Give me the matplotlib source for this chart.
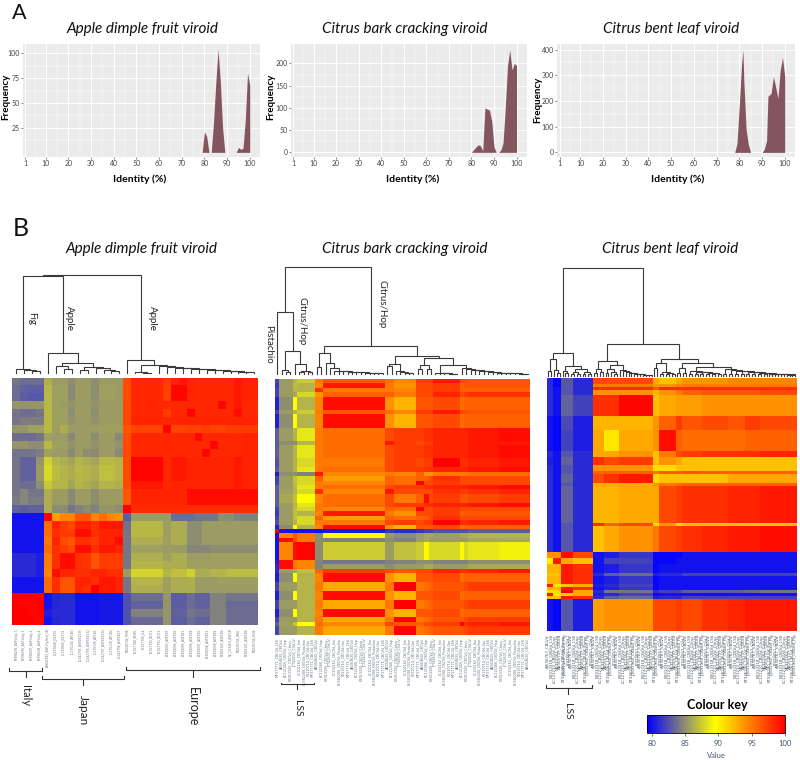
# Frecuencia de identidad y mapas de calor de tres viroides

import matplotlib
matplotlib.use('Agg')
import matplotlib.pyplot as plt
import numpy as np
from matplotlib.cm import ScalarMappable
from matplotlib.colors import LinearSegmentedColormap, Normalize

plt.rcParams['font.family'] = ['Lato', 'DejaVu Sans']

# --- histogramas de identidad ---
titles = ['Apple dimple fruit viroid', 'Citrus bark cracking viroid', 'Citrus bent leaf viroid']

adfvd_identity = [78, 79, 80, 81, 82, 83, 84, 85, 86, 87, 88, 89, 93, 94, 95, 96, 97, 98, 99, 100, 100.01]
adfvd_freq = [0, 0, 21, 16, 0, 0, 30, 70, 104, 72, 25, 0, 0, 0, 5, 3, 4, 32, 80, 68, 0]
cbcvd_identity = [79, 80, 81, 82, 83, 84, 85, 86, 87, 88, 89, 90, 91, 92, 93, 94, 95, 96, 97, 98, 99, 100, 100.01]
cbcvd_freq = [0, 0, 6, 12, 17, 15, 3, 100, 97, 95, 70, 12, 0, 0, 5, 20, 100, 195, 230, 185, 200, 195, 0]
clbvd_identity = [77, 78, 79, 80, 81, 81.6, 82, 83, 84, 85, 89, 90, 91, 92, 92.6, 94, 95, 96, 97, 98, 99, 100, 100.01]
clbvd_freq = [0, 0, 35, 180, 340, 400, 280, 90, 30, 0, 0, 0, 12, 45, 218, 230, 295, 255, 210, 320, 370, 295, 0]

id_ticks = [1, 10, 20, 30, 40, 50, 60, 70, 80, 90, 100]
freq_ticks = [[25, 50, 75, 100], [0, 50, 100, 150, 200], [0, 100, 200, 300, 400]]
freq_limits = [(-4.7, 109.5), (-10.5, 243.6), (-18, 422)]

# --- mapa 1: Europa (17), Japón (10), Italia (4) ---
heat1 = [
    [84, 83.7, 83.7, 83.7, 86.3, 85.5, 85.5, 85, 85.5, 85.5, 85, 85.5, 85.5, 85.5, 96.8, 98.3, 98.3, 98.3, 98.3, 97.5, 98.5, 99, 98.5, 98.3, 98.3, 98.3, 98.3, 98.3, 99, 98.5, 98.5],
    [83.7, 83.2, 83, 83, 86.7, 85.7, 85.7, 84.8, 85.5, 85.5, 85, 85.7, 85.7, 85.5, 96.8, 98.3, 98.3, 98.3, 98.3, 97.3, 99.7, 99.7, 98.5, 98.3, 98.3, 98.3, 98.3, 98.3, 99, 98.5, 98.5],
    [83.7, 83, 82.8, 82.8, 86.7, 85.7, 85.7, 84.8, 85.5, 85.5, 85, 85.7, 85.7, 85.5, 96.8, 98.3, 98.3, 98.3, 98.3, 97.3, 99.7, 99.7, 98.5, 98.3, 98.3, 98.3, 98.3, 98.3, 99, 98.5, 98.5],
    [85.3, 85.3, 85.3, 85.3, 86.7, 85.7, 85.5, 85.2, 85.5, 85.5, 85.2, 85.5, 85.5, 85.5, 97, 98.3, 98.3, 98.5, 98.3, 98.3, 98.3, 98.3, 98.3, 98.3, 98.3, 98.3, 99.6, 98.3, 99, 98.3, 98.3],
    [84, 83.7, 83.7, 84, 86.7, 85.7, 85.7, 85, 85.5, 85.5, 85, 85.5, 85.5, 85.5, 97, 98.3, 98.3, 98.3, 98.3, 97.5, 98.3, 98.3, 99.7, 98.3, 98.3, 98.3, 98.3, 98.3, 99.5, 98.3, 98.3],
    [84, 84.3, 84.3, 84.3, 86.7, 85.7, 85.7, 85.2, 85.5, 85.5, 85.2, 85.5, 85.5, 85.5, 97, 98.5, 98.5, 98.5, 98.5, 98.3, 98.5, 98.5, 98.5, 98.5, 98.5, 98.5, 98.5, 98.5, 98.5, 98.5, 98.5],
    [85.3, 85.3, 85.7, 85.7, 86.7, 85.7, 86.2, 85.5, 85.5, 85.5, 85.5, 85.7, 85.7, 85.7, 96.5, 97.2, 97.2, 97.2, 97.2, 99.8, 97.2, 97.2, 97.3, 97.2, 97.5, 97.2, 97.2, 97.5, 97.5, 97.5, 97.5],
    [83.7, 83.7, 83.7, 84, 85.7, 85.5, 85.5, 84.8, 85.5, 85.5, 85, 85.5, 85.5, 84.8, 96.8, 98.3, 98.3, 98.3, 98.3, 98.3, 98.3, 98.3, 98.3, 99.6, 98.3, 98.3, 98.3, 98.3, 98.3, 98.5, 98.5],
    [85.3, 85.3, 85, 85, 86.7, 85.7, 85.7, 85.2, 85.5, 85.5, 85.2, 85.5, 85.5, 85.2, 97, 98.3, 98.3, 98.3, 98.3, 98.5, 98.3, 98.3, 98.3, 98.3, 98.3, 99.6, 98.3, 98.3, 98.3, 98.5, 98.5],
    [84, 84, 84, 84.3, 85.7, 85.5, 85.5, 84.8, 85.5, 85, 84.8, 85.5, 85.5, 84.8, 97, 98.3, 98.3, 98.3, 98.3, 98.3, 98.3, 98.3, 98.3, 98.3, 99.6, 98.3, 98.3, 98.3, 98.3, 98.5, 98.5],
    [84, 83.2, 83.2, 85.3, 87.6, 86.5, 86.2, 85.9, 86.5, 86.2, 85.9, 86.7, 86.7, 86.5, 96.8, 99.8, 99.8, 99.8, 99.8, 98.3, 99, 99, 98.5, 98.5, 98.5, 98.5, 98.5, 98.5, 99, 98.5, 98.5],
    [84, 83.2, 83.2, 85.5, 88, 86.8, 86.5, 86.2, 86.7, 86.5, 86.2, 86.9, 86.9, 86.5, 96.8, 99.8, 99.8, 99.8, 99.8, 98.3, 99, 99, 98.5, 98.5, 98.5, 98.5, 98.5, 98.5, 99, 98.5, 98.5],
    [84, 83.2, 83.2, 85.5, 88, 86.8, 86.5, 86.2, 86.7, 86.5, 86.2, 86.9, 86.9, 86.5, 96.8, 99.8, 99.8, 99.8, 99.8, 98.3, 99, 99, 98.5, 98.5, 98.5, 98.5, 98.5, 98.5, 99, 98.5, 98.5],
    [84, 83.7, 83.7, 85, 87.2, 86.5, 86.5, 85.9, 86.5, 86.2, 85.9, 86.5, 86.5, 86.3, 97, 99, 99, 99, 99, 98.3, 98.5, 98.5, 98.5, 98.5, 98.5, 98.5, 98.5, 98.5, 99, 98.5, 98.5],
    [84, 84.7, 84, 84, 86.3, 85.5, 85.5, 84.8, 85.5, 85.5, 85, 85.5, 85.5, 85.5, 96.5, 98.5, 98.5, 98.5, 98.5, 98.5, 98.5, 98.5, 99.5, 99.5, 99.5, 99.5, 99.5, 99.5, 99.5, 99.5, 99.5],
    [84.3, 84.7, 84.3, 84.3, 86.3, 85.5, 85.5, 84.8, 85.5, 85.5, 85, 85.5, 85.5, 85.5, 96.5, 98.5, 98.5, 98.5, 98.5, 98.5, 98.5, 98.5, 99.5, 99.5, 99.5, 99.5, 99.5, 99.5, 99.5, 99.5, 99.5],
    [83.2, 83, 83.2, 83.2, 86.3, 85, 85, 84, 84.5, 85, 84.5, 85.3, 85.3, 85, 100, 98.2, 98.2, 98.2, 98.2, 98.2, 98.2, 98.2, 98.2, 98.2, 98.2, 98.2, 98.2, 98.2, 98.2, 98.2, 98.2],
    [80, 80, 80, 80, 100, 93.5, 94.5, 94.5, 96.5, 96.5, 94.5, 95.5, 94.5, 94, 83, 85.5, 85.5, 85.5, 85.5, 85.5, 83.7, 83.7, 83.7, 83.9, 84, 84, 85, 85, 84.5, 84.5, 84.5],
    [80, 80, 80, 80, 95.5, 98.5, 97.5, 97, 98.5, 98.5, 98, 99, 99, 99, 83.8, 86.7, 86.7, 86.7, 86.7, 85.7, 86.2, 86.2, 85, 85, 85.5, 85.5, 85.5, 85.5, 85.5, 85.5, 85.5],
    [80, 80, 80, 80, 95.5, 98, 97.5, 97.5, 99.5, 99.5, 98, 98.5, 98.5, 98.5, 84, 86.7, 86.7, 86.7, 86.7, 85.7, 86.2, 86.2, 85, 85, 85.5, 85.5, 85.5, 85.5, 85.5, 85.5, 85.5],
    [80, 80, 80, 80, 95, 98.5, 97, 96.5, 98, 98, 97.5, 98.5, 98.5, 99.5, 84, 86.3, 86.3, 86.3, 86.3, 85.7, 86.2, 86.2, 85, 85, 85.5, 85.5, 85.5, 85.5, 85.5, 85.5, 85.5],
    [80, 80, 80, 80, 95.5, 98, 97.5, 97, 99.5, 99.5, 98, 99, 99, 98.5, 84, 85.7, 85.7, 85.7, 85.7, 85.5, 85.5, 85.5, 84.7, 84.7, 84.7, 85, 85, 85, 85, 85, 85],
    [81, 81, 81, 80.5, 94.8, 98, 99.5, 99.5, 98, 97.8, 96.5, 97.5, 97.5, 97.5, 84, 86.3, 86.3, 86.3, 86.3, 85.7, 86.2, 86.2, 85.5, 85.5, 85.5, 85.7, 85.7, 85.7, 85.7, 85.7, 85.7],
    [81, 81, 81, 80.5, 94.8, 98, 99.5, 99.5, 98, 97.8, 96.5, 97.5, 97.5, 97.5, 84, 86.5, 86.5, 86.5, 86.5, 86.2, 86.3, 86.3, 85.7, 85.7, 85.7, 85.7, 85.7, 85.7, 85.7, 85.7, 85.7],
    [81, 81, 81, 80.5, 94.5, 99.5, 98.5, 98.5, 98, 98, 98.5, 98.5, 98, 98, 85.5, 87.8, 87.8, 87.8, 87.8, 86.5, 87, 87, 87.6, 86.2, 86.2, 86.5, 86.5, 86.8, 86.8, 86.8, 86.8],
    [80, 80, 80, 80, 95.5, 98, 96.5, 96.5, 98.5, 98.5, 98, 99, 99, 98.5, 84, 86.5, 86.5, 86.5, 86.5, 85.7, 86.2, 86.2, 86.3, 85.5, 85.5, 85.5, 85.7, 85.7, 85.7, 85.7, 85.7],
    [80, 80, 80, 80, 95.5, 98, 96.5, 96.5, 98.5, 98, 100, 99, 99, 98.5, 84, 86.3, 86.3, 86.3, 86.3, 85.7, 86.2, 86.2, 86.3, 85.5, 85.5, 85.5, 85.5, 85.5, 85.5, 85.5, 85.5],
    [100, 100, 100, 100, 80, 80.8, 81, 81, 80, 80, 80, 80.3, 80.3, 80.3, 82.5, 83.7, 83.7, 83.7, 83.7, 85.3, 83, 83, 83.7, 83.2, 83.2, 84.5, 84.5, 84, 84, 84, 84],
    [100, 99.7, 99.7, 100, 80, 80.8, 81, 81, 80, 80, 80, 80.3, 80.3, 80.3, 82.5, 83.2, 83.2, 83.2, 83.2, 85.3, 83, 83, 83.7, 83.2, 83.2, 84.5, 84.5, 83.5, 83.5, 83.5, 83.5],
    [100, 100, 99.7, 100, 80.5, 81, 81, 81, 80, 80, 80, 80.3, 80.3, 80.3, 82.5, 84.5, 84.5, 84.5, 84.5, 85.3, 83.2, 83.2, 84, 83.7, 83.7, 84.5, 84.5, 83.7, 83.7, 83.7, 83.7],
    [100, 100, 100, 99.7, 80, 80.8, 81, 81, 80, 80, 80, 80.3, 80.3, 80.3, 82.5, 83.5, 83.5, 83.5, 83.5, 85.3, 83, 83, 83.7, 83.2, 83.2, 84.5, 84.5, 83.7, 83.7, 83.7, 83.7],
]
heat1_labels = [
    'KF998296_ASP-Italy-3', 'KF998295_ASP-Italy-1', 'KF998297_ASP-Italy-2', 'KF998298_ASP-Italy-4',
    'AB842285_ASP-Fig-Red_1B', 'LC033848_JS1570', 'LC033849_JS1574', 'LC176140_AP1B3',
    'LC042795_ASP1B1535', 'LC042796_ASP1B1532', 'LC176139_AP1B1', 'LC042797_ASP1B1530',
    'LC176138_AP1B2', 'LC042798_ASP1B07', 'MG049744_MN8', 'KC037788_BD90',
    'KC037789_IL4', 'KC037790_BD71', 'KC037791_BD73', 'EF408093_ASP1B7',
    'EF408094_ASP1B3', 'EF408095_ASP1B2', 'EF408096_ASP1B8', 'EF408097_ASP1B5',
    'EF408098_ASP1B13', 'EF408099_ASP1B9', 'EF408100_ASP1B4', 'NC_003463_ASP1B',
    'MG049745_MN5', 'EF408101_ASP1B6', 'MG049746_MN4',
]
heat1_tree = (98,
              (97.7,
               (4, 0, (3, 0, (2.5, 0, 0))),
               (20.7, 0, (10, (7.3, 0, (4, 0, 0)), (6, (3, 0, 0), (5, 0, (3, 0, (2, 0, 0))))))),
              (13, 0, (8, (1.5, 0, (0.8, 0, 0)), ('l', 7.3, 6, 5.5, 5, 4.5, 4, 3.5, 3, 2.5, 2, 1.5, 1.2))))

# --- mapa 2: perfiles de fila por bandas de columnas ---
heat2_band_widths = [1, 3, 1, 4, 2, 14, 2, 5, 2, 1, 1, 6, 1, 1, 7, 7]
heat2_profiles = {
    'A': [80.5, 85, 89.5, 86.5, 94.5, 99.5, 94, 92.5, 96.5, 96.5, 96.5, 97, 95.5, 96, 96, 96],
    'A2': [81.5, 85.5, 87, 86.5, 94.5, 99, 95, 94, 97, 97, 97, 97.5, 96, 96.5, 96.5, 96.5],
    'B': [82, 85.5, 86.5, 87.5, 95, 96.5, 95.5, 94.5, 97.5, 97.5, 97.5, 99, 97, 97, 96.5, 96.5],
    'B2': [82, 85.5, 86.5, 86.5, 98, 95, 95, 94.5, 97, 97, 97, 97.5, 96, 96, 96, 96],
    'B3': [82, 85.5, 86, 88, 94, 96, 96, 95, 97, 97, 97, 98.5, 97, 97.5, 98, 98],
    'C': [83, 85.5, 86.5, 88.5, 95, 95.5, 97, 97.5, 97.5, 98, 98, 98.5, 98.5, 98.5, 99, 99.5],
    'C2': [82.5, 85.5, 86.5, 88, 95, 95, 97, 97.5, 97, 97.5, 97.5, 100, 98, 98, 98.5, 99],
    'C3': [83, 85, 85, 86.5, 95, 95.5, 99, 97.5, 97, 97.5, 97.5, 98.5, 98.5, 98.5, 99, 99],
    'D': [80.5, 85, 85, 84.5, 99, 94.5, 95, 94.5, 96, 94, 94, 95, 95, 95, 95.5, 95.5],
    'E0': [82, 85.5, 87, 88, 96, 93.5, 96, 95.5, 96, 96, 97, 98, 97, 97, 97, 97],
    'F': [82, 85.5, 87, 88, 95, 94.5, 96, 95.5, 100, 97, 97, 97.5, 97, 97, 97, 97],
    'G': [83, 86, 87, 89.5, 94.5, 95.5, 97, 95, 96, 99.5, 97, 97.5, 96.5, 96.5, 97, 97.5],
    'H': [83, 85.7, 86.5, 88, 98, 94.5, 99, 97, 97, 97, 97, 98, 97.5, 97.5, 98, 98.5],
    'BL': [100, 80, 80, 80, 80, 80.3, 81.5, 81, 81.5, 82, 82, 82.5, 82.5, 82.5, 83, 83],
    'S1': [80, 94.5, 96.5, 95, 85, 89.5, 85.5, 85, 85.5, 86, 86, 85.7, 86, 86, 86.5, 86.5],
    'S2': [80, 99.5, 97, 95, 84.8, 84.5, 85, 84.5, 85.5, 86, 85.5, 85.5, 85.5, 85.5, 86, 86],
    'S3': [80, 94.5, 99.5, 99.8, 85, 87.5, 85.5, 87, 87.5, 89.7, 88, 88, 89.7, 88, 88.5, 89],
    'S4': [80.5, 99.5, 95, 94.5, 84.5, 84, 84.5, 84.5, 85, 85, 85, 84.5, 84.5, 84.5, 85, 85],
    'S5': [81, 99.5, 95, 94.5, 84.5, 85.5, 85, 85.5, 85.5, 86, 86, 85.5, 85.5, 85.5, 86, 86],
    'E': [82, 85.5, 85.5, 86.5, 95, 93, 95, 100, 95, 95.5, 96, 96.5, 96.5, 97, 97.5, 97.5],
    'I': [81, 85.5, 86, 87, 96, 97.5, 97, 96.5, 97, 97, 97, 98.5, 98, 98, 98.5, 99],
    'J': [83, 85.7, 87, 89.5, 95.5, 94.5, 97, 96.5, 96, 97, 97, 97.5, 100, 98, 98.5, 99],
}
heat2_rows = [
    'B', 'A2', 'B2', 'B3', 'A', 'A', 'A', 'B', 'A', 'A', 'A',
    'C', 'C', 'C', 'C3', 'C', 'C', 'C', 'C2', 'C2', 'C', 'D',
    'E0', 'F', 'C', 'H', 'G', 'G', 'C', 'F', 'A2', 'E0', 'C2', 'A',
    'BL', 'S1', 'S2', 'S3', 'S3', 'S3', 'S3', 'S4', 'S5', 'I',
    'A', 'A', 'E', 'E', 'A', 'A', 'E', 'E', 'A', 'A', 'E', 'J', 'E', 'E',
]
heat2_label_stems = ['MF377771_CBCVd_LSS', 'AB054620_CBCVd', 'KC121566_CBCVd_Hop', 'KX013326_CBCVd_Citrus',
                     'JF742602_CVd-IV', 'LC102162_CBCVd_Sw', 'EU382208_CBCVd_Pistachio', 'KY110714_CBCVd-Gre']
heat2_tree = (107,
              (62.7, 0, (23.3, (4, 0, (2.5, 0, 0)), (10, 0, (3, (2, 0, 0), (2, 0, 0))))),
              (28.3,
               (21.7, (7, 0, 0), (11, 0, ('l', 6, 3.5, 3, 2.8, 2.5, 2.2, 2, 1.8, 1.5, 1.3, 1, 0.8))),
               (18.3,
                (10, (8, 0, 0), ('l', 3, 2, 1.5, 1)),
                (16.7,
                 (9, (5, 0, 0), (5, 0, 0)),
                 (9, ('l', 1.2, 1, 0.8, 0.6, 0.5),
                  ('l', 6, 5.5, 4.5, 4, 3.5, 3, 2.5, 2, 1.6, 1.4, 1.2, 1, 0.8, 0.6, 0.5))))))

# --- mapa 3 ---
heat3_band_widths = [2, 3, 4, 7, 4, 5, 12, 2, 6, 2, 7, 9, 6, 5, 13]
heat3_profiles = {
    'a': [81, 79.5, 82.7, 81, 97, 97, 97, 93, 92, 93, 94, 94, 94.5, 94.5, 94.5],
    'b': [81, 79.5, 82.7, 81, 95, 95, 95, 94, 94, 94.5, 95, 95, 95, 95, 95],
    'c': [81, 80, 82.7, 81, 98, 98, 98, 96, 98, 98, 98, 98, 98, 98, 98],
    'd': [81, 80, 82.7, 81, 94, 94, 94, 92.5, 94, 95, 96, 96.5, 96.5, 96.5, 97],
    'e': [81, 80, 83.3, 82, 98, 98, 99.7, 92, 93, 93.5, 93.5, 94, 94, 94, 94],
    'f': [80, 79.5, 82.3, 80.5, 92.5, 92.5, 92.5, 94, 96, 97.5, 96.5, 97, 96.5, 97.5, 97],
    'g': [80, 79.5, 82, 80.5, 93, 90.5, 93, 94, 99.5, 96, 95.5, 95.5, 95.5, 96, 96],
    'h': [81, 80, 82.7, 81, 93, 93, 94, 92, 95, 97, 97.5, 98, 98, 98, 98.5],
    'i': [80.5, 80, 83.3, 81, 98, 97, 97.5, 92, 94, 93, 92, 92, 92, 92, 92],
    'j': [81, 80, 82.7, 81, 94, 94, 94, 91, 91, 92, 92, 92, 92, 92, 92],
    'k': [81, 80, 82.7, 81, 96, 96, 96, 95, 96, 96, 96.5, 96, 96, 96, 96],
    'l': [81, 80, 83.3, 81, 97, 98, 99, 91, 92, 92, 92, 92, 93, 93, 93],
    'm': [81, 80, 82.7, 81, 93, 93, 93, 94, 95, 95.5, 96, 96, 96, 96, 96],
    'n': [81, 80, 83.3, 81, 92.5, 92.5, 93, 93, 97, 97.5, 98, 98, 98.5, 98.5, 99],
    'o': [81, 80, 82.7, 81, 92, 93, 94, 95, 97, 97.5, 98, 98.5, 99, 99, 99.5],
    'p': [81, 80, 82.7, 81, 98, 96, 97, 91, 94, 91, 92, 92, 92, 92, 92],
    'q': [94, 94, 99.5, 97, 80, 80.5, 81.5, 79.5, 79.5, 79.5, 80, 80, 80, 80, 80],
    'r': [90, 99, 93, 92, 80, 82, 82, 79.5, 79.5, 80, 80, 80, 80, 80, 80],
    's': [92.5, 92.5, 99, 98, 80, 80.5, 81.5, 79.5, 80, 80, 80, 80, 80, 80, 80],
    't': [92, 92, 99, 98, 81, 83, 83.5, 80.5, 81, 81, 82, 82, 82, 82, 82],
    'u': [99, 90.5, 92, 93, 80.5, 81, 82, 79.5, 80, 80, 80, 80, 80, 80, 80],
    'v': [91, 91, 100, 93, 81, 84, 84, 81, 82, 82, 83, 83, 83, 83.5, 84],
    'w': [80, 79.5, 82.7, 80.5, 93.5, 94, 94, 97, 97, 97.5, 97, 98, 98.5, 99, 99],
}
heat3_row_blocks = [('a', 2), ('b', 1), ('c', 1), ('d', 2), ('e', 7), ('f', 5), ('g', 7), ('h', 2), ('i', 3),
                    ('j', 2), ('k', 1), ('l', 3), ('m', 1), ('n', 7), ('n', 6), ('p', 1), ('o', 9),
                    ('q', 2), ('r', 2), ('s', 3), ('t', 1), ('s', 3), ('u', 1), ('s', 1), ('v', 1), ('u', 1), ('t', 1),
                    ('w', 11)]
heat3_label_stems = ['AJ630767_CBLVd', 'KX013318_CBLVd_LSS', 'LC121210_CBLVd_Citrus', 'MF377762_CVd-Ib',
                     'AB006737_CBLVd', 'KT336290_CBLVd_Pome', 'JQ691960_CBLVd_Fig', 'FJ974051_CVd-I']
heat3_tree = (107.3,
              (22.3,
               (16.3, (5, 0, 0), (6, 0, (3, 0, 0))),
               (9.7, (5, 0, (2.5, 0, 0)), (7, (4, (2, 0, 0), (2, 0, 0)), (4, (2, 0, 0), (2, 0, 0))))),
              (31.3,
               (14.7,
                (6.3, (3, 0, 0), (4, 0, 0)),
                (11, (7, (3, 0, 0), (4, 0, (2, 0, 0))), ('l', 6, 5, 4, 3, 2.5, 2, 1.5, 1.2, 1, 0.8, 0.6))),
               (17,
                (13, (7.5, 0, 0), (4, (2, 0, 0), (3, (2, 0, 0), (2, 0, 0)))),
                (12.3,
                 (8, (3, 0, 0), (3, 0, 0)),
                 (8.3,
                  ('p', 5, 4, 3.5, 3, 2.5),
                  ('p', 6.5, 6, 5, 4.5, 4, 3.5, 3, 2.5, 2, 1.5, 1.2, 1))))))

# --- colores ---
v_min, v_yellow, v_max = 79.25, 89.5, 100
heat_cmap = LinearSegmentedColormap.from_list(
    'bgyr', [(0, '#0000ff'), ((v_yellow - v_min) / (v_max - v_min), '#ffff00'), (1, '#ff0000')])
heat_norm = Normalize(v_min, v_max)
colour_ticks = [80, 85, 90, 95, 100]

W, H = 800, 760
fig = plt.figure(figsize=(W / 100, H / 100), dpi=100, facecolor='white')


def ax_px(left, top, right, bottom):
    return fig.add_axes([left / W, 1 - bottom / H, (right - left) / W, (bottom - top) / H])


def expand(node):
    # 'l' = escalera de hojas, 'p' = escalera de pares
    if node == 0:
        return 0
    if node[0] in ('l', 'p'):
        leaf = 0 if node[0] == 'l' else (2, 0, 0)
        heights = node[1:]
        tree = (heights[-1], leaf, leaf)
        for h in reversed(heights[:-1]):
            tree = (h, leaf, tree)
        return tree
    return (node[0], expand(node[1]), expand(node[2]))


def count_leaves(node):
    return 1 if node == 0 else count_leaves(node[1]) + count_leaves(node[2])


def draw_tree(ax, node, next_leaf):
    # devuelve x, altura y el siguiente indice de hoja
    if node == 0:
        return next_leaf + 0.5, 0, next_leaf + 1
    x1, h1, next_leaf = draw_tree(ax, node[1], next_leaf)
    x2, h2, next_leaf = draw_tree(ax, node[2], next_leaf)
    h = node[0]
    ax.plot([x1, x1, x2, x2], [h1, h, h, h2], color='#3a3a3a', lw=0.8, solid_joinstyle='miter', clip_on=False)
    return (x1 + x2) / 2, h, next_leaf


def draw_dendro(tree, left, right, baseline):
    tree = expand(tree)
    ax = ax_px(left, 262, right, baseline)
    ax.set_xlim(0, count_leaves(tree))
    ax.set_ylim(0, baseline - 262)
    ax.axis('off')
    draw_tree(ax, tree, 0)


def draw_heat(values, left, top, right, bottom, labels, font, colour):
    ax = ax_px(left, top, right, bottom)
    ax.imshow(values, aspect='auto', cmap=heat_cmap, norm=heat_norm, interpolation='nearest')
    ax.set_xticks(np.arange(len(labels)))
    ax.set_xticklabels(labels, rotation=90, fontsize=font, color=colour, family='DejaVu Sans')
    ax.set_yticks([])
    ax.tick_params(axis='x', length=0, pad=2.5)
    for spine in ax.spines.values():
        spine.set_visible(False)


def draw_area(pos, x, y, yticks, ylim):
    ax = ax_px(*pos)
    ax.set_facecolor('#ebebeb')
    ax.set_xlim(0, 104.5)
    ax.set_ylim(*ylim)
    ax.set_xticks(id_ticks)
    ax.set_yticks(yticks)
    ax.set_xticks([5.5, 15, 25, 35, 45, 55, 65, 75, 85, 95], minor=True)
    steps = yticks[1] - yticks[0]
    ax.set_yticks([t + steps / 2 for t in yticks[:-1]] + [yticks[0] - steps / 2 * (yticks[0] > 0)], minor=True)
    ax.grid(which='major', color='white', lw=0.7)
    ax.grid(which='minor', color='white', lw=0.3)
    ax.set_axisbelow(True)
    ax.tick_params(which='minor', length=0)
    ax.tick_params(which='major', length=1.5, width=0.5, color='#555555', labelsize=5, labelcolor='#444444', pad=0.8)
    for spine in ax.spines.values():
        spine.set_visible(False)
    ax.fill_between(x, y, 0, color='#85555f', lw=0)


draw_area((23, 44, 260, 157), adfvd_identity, adfvd_freq, freq_ticks[0], freq_limits[0])
draw_area((291, 44, 526.7, 157), cbcvd_identity, cbcvd_freq, freq_ticks[1], freq_limits[1])
draw_area((557.3, 44, 795, 157), clbvd_identity, clbvd_freq, freq_ticks[2], freq_limits[2])

# mapas de calor
matrix1 = np.array(heat1)
draw_heat(matrix1, 12.3, 378, 258.3, 625, heat1_labels, 2.1, '#6a7480')

matrix2 = np.array([np.repeat(heat2_profiles[r], heat2_band_widths) for r in heat2_rows])
labels2 = [heat2_label_stems[i % len(heat2_label_stems)] for i in range(matrix2.shape[1])]
draw_heat(matrix2, 275, 379, 530, 635, labels2, 2.4, '#6a7480')

heat3_rows = [name for name, n in heat3_row_blocks for _ in range(n)]
matrix3 = np.array([np.repeat(heat3_profiles[r], heat3_band_widths) for r in heat3_rows])
labels3 = [heat3_label_stems[i % len(heat3_label_stems)] for i in range(matrix3.shape[1])]
draw_heat(matrix3, 546.7, 378, 796.7, 630.7, labels3, 2.9, '#505a66')

draw_dendro(heat1_tree, 12.3, 258.3, 373.3)
draw_dendro(heat2_tree, 275, 530, 374.3)
draw_dendro(heat3_tree, 546.7, 796.7, 375.7)

# clave de color
cax = ax_px(647, 715, 785, 733)
cbar = fig.colorbar(ScalarMappable(norm=heat_norm, cmap=heat_cmap), cax=cax, orientation='horizontal')
cbar.set_ticks(colour_ticks)
cbar.ax.tick_params(labelsize=5.5, labelcolor='#3f5570', length=2, width=0.5, color='#444444', pad=3)
cbar.outline.set_linewidth(0.6)

# capa de textos en pixeles
over = fig.add_axes([0, 0, 1, 1])
over.set_xlim(0, W)
over.set_ylim(H, 0)
over.axis('off')
over.patch.set_alpha(0)

over.text(12, 13, 'A', fontsize=15.5, ha='left', va='center', color='#111111')
over.text(12.5, 229, 'B', fontsize=18, ha='left', va='center', color='#111111')

for cx, title in zip([142.5, 404.7, 670.7], titles):
    over.text(cx, 29, title, fontsize=11, style='italic', ha='center', va='center', color='#111111')
for cx, title in zip([141.8, 404.3, 670.5], titles):
    over.text(cx, 249.3, title, fontsize=11, style='italic', ha='center', va='center', color='#111111')

for cx, cy in [(6, 97), (271, 97), (538, 100)]:
    over.text(cx, cy, 'Frequency', fontsize=7, weight='bold', rotation=90, ha='center', va='center')
for cx in [139.7, 412.7, 678]:
    over.text(cx, 179, 'Identity (%)', fontsize=7.5, weight='bold', ha='center', va='center')

clades = [('Fig', 31.7, 318), ('Apple', 69, 318), ('Apple', 152.7, 318), ('Pistachio', 269, 344),
          ('Citrus/Hop', 302.3, 321), ('Citrus/Hop', 381.7, 304.5)]
for name, cx, cy in clades:
    over.text(cx, cy, name, fontsize=7, rotation=270, ha='center', va='center', color='#222222')

brackets = [('Italy', 9.3, 41.7, 670.7, 667.5, 25.5, 677, 696, 8),
            ('Japan', 41.7, 124, 679, 675.5, 83, 685, 710, 8.5),
            ('Europe', 125.7, 260, 670, 667, 192.7, 677, 707, 9),
            ('LSS', 281, 314.3, 684.3, 682.5, 297.3, 689, 708, 7.5),
            ('LSS', 545.7, 591.7, 688, 685, 568, 694, 711, 7.5)]
for name, x0, x1, y_line, y_end, x_stem, y_stem, y_text, size in brackets:
    over.plot([x0, x0, x1, x1], [y_end, y_line, y_line, y_end], color='#333333', lw=0.8)
    over.plot([x_stem, x_stem], [y_line, y_stem], color='#333333', lw=0.8)
    over.text(x_stem, y_text, name, fontsize=size, rotation=270, ha='center', va='center', color='#222222')

over.text(717, 705, 'Colour key', fontsize=9, weight='bold', ha='center', va='center')
over.text(716, 755, 'Value', fontsize=5.5, color='#3f5570', ha='center', va='center')

plt.savefig('out.png', dpi=100)
